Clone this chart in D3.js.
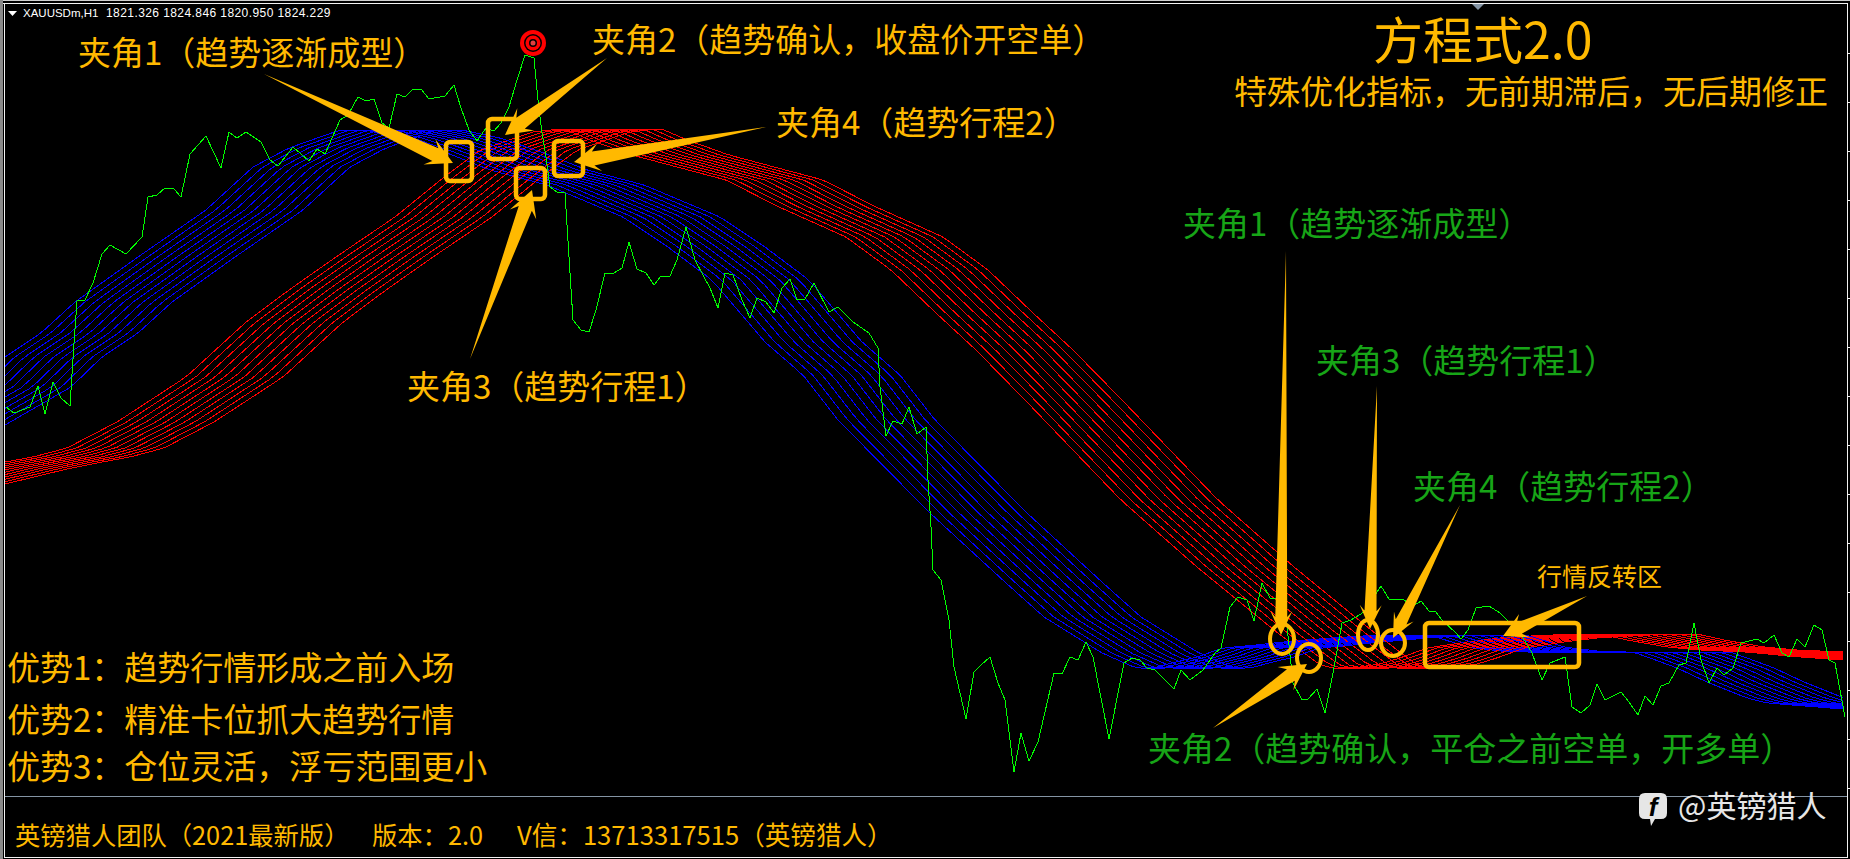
<!DOCTYPE html>
<html><head><meta charset="utf-8">
<script src="https://cdn.jsdelivr.net/npm/d3@7"></script>
<style>html,body{margin:0;padding:0;background:#000;overflow:hidden}svg{display:block}</style>
</head><body><div id="chart"></div>
<script>
// ---- data: time is in half-pixel chart units, price in quote units
const closeTime=[3,7,15,19,22.5,26.5,30.5,35,37,38.5,42.5,46.5,51,55,63,71,74,78.5,82.5,87,90.5,95,103,110.5,114.5,118.5,123,130.5,135,139,146.5,154.5,158.5,162.5,170,174,179,183,187,191,194.5,198.5,202.5,206.5,210.5,214.5,222.5,227,230.5,234.5,238.5,243,247,250.5,254.5,258.5,262.5,267,269,271,273,275,278.5,282.5,284.5,286.5,290.5,294.5,298,302.5,307,311,314.5,318.5,323,327,330.5,335,338.5,343,347.5,352,355,359,362.5,366.5,371,375,378.5,383,387,391,395,398.5,402.5,407,414.5,419,426.5,434.5,439,440,443,446.5,451,454.5,458.5,463,464,465.5,466.5,470.5,474.5,477,483,487,490.5,495,499,502.5,507,510.5,514.5,519,527,531,535,539,543,546.5,554.5,562,566,570,573.5,577.5,587,590.5,595,601.5,607.5,610.5,615,619,623.5,627,631,635,642,646.5,651,654,658.5,662.5,666.5,671,675.5,682,690.5,694.5,702,706.5,710.5,714.5,718,721,728,730.5,734,738,744.5,750,754.5,761.5,766,771,775,782.5,786,790.5,795,798.5,802.5,810.5,814.5,819,822.5,826.5,830.5,834.5,839.5,843,847,850.5,854.5,858.5,862,866.5,870.5,878.5,882,887,891,894.5,898.5,902.5,907,911,914.5,917.5,920,922.5];
const closePrice=[1859.3,1858.7,1859.3,1861.4,1858.6,1861.8,1860.2,1859.4,1865.7,1869.9,1870,1871.7,1874.6,1875.5,1874.6,1876.3,1880.3,1880.5,1881.2,1881.1,1880.3,1884.6,1886.4,1883.2,1886.8,1886.2,1886.8,1885.8,1884,1883.4,1885.3,1883.9,1885.1,1884.6,1888,1888.5,1890.3,1889.9,1890.1,1887.7,1887.2,1890.6,1890.3,1891.1,1891.1,1890.1,1890.4,1891.5,1889.2,1887,1885.9,1887.2,1886.9,1887.7,1889.3,1892,1894.5,1894.2,1890,1886.7,1884.3,1881.3,1880.8,1880.7,1874.3,1868,1867,1866.8,1869,1872.7,1872.7,1873.2,1875.8,1873.1,1872.7,1871.5,1872.4,1872.4,1874,1877.3,1874,1872.3,1871.2,1869.2,1872.7,1872.5,1870,1868.2,1870.2,1869.8,1868.7,1871.2,1872.1,1870,1870.1,1871.7,1868.8,1869.3,1867.8,1866.7,1865.2,1861.3,1856.4,1857.9,1857.6,1859.3,1856.6,1857.3,1852,1847.3,1843,1842,1838,1833.3,1828.1,1832.8,1833.5,1834.3,1831.7,1830,1822.8,1826.7,1823.9,1825.8,1832.7,1832.6,1834.3,1834,1835.8,1834.3,1826.1,1833.7,1834.2,1834,1833.2,1833,1831.1,1833,1832,1833,1834.7,1835.2,1839.3,1840.3,1840,1837.9,1841.7,1840.2,1840.2,1831.7,1830,1830.1,1831.1,1828.7,1832.7,1837.7,1838,1838.8,1841.4,1840.1,1840,1839.4,1839.9,1838.9,1838.8,1838,1836.7,1836.1,1837,1839.2,1839.4,1838.7,1837.8,1836.2,1834.7,1832,1833.7,1834.3,1829.3,1828.7,1829.5,1831.6,1830,1830.8,1829.8,1828.5,1830.4,1829.5,1831.4,1831.7,1833.5,1833.7,1837.7,1834,1831.7,1833.2,1832.5,1833.2,1835.7,1836.1,1835.7,1836.5,1834.7,1834.3,1836.1,1835.3,1837.5,1837,1834,1833.7,1831,1828.3];

// fastest moving average of each ribbon; the slower ones trail it by ribbonLags
const blueTime=[-46,-13,2.5,20.5,37.5,69,103,126.5,144.5,170,182.5,201.5,223.5,245,273.5,311.5,334,356,382.5,401.5,419,465,503,522,551,568,576.5,588,598.5,611.5,628.5,636.5,665,690,715,733.5,750,763.5,788.5,816.5,825,838.5,853.5,873.5,883.5,921.5];
const bluePrice=[1857.5,1861.3,1864.3,1866.7,1869.8,1874.3,1879,1883.3,1885.2,1887,1887,1886.2,1884.7,1883,1881.5,1878.3,1875.3,1872,1865.8,1862.5,1858,1848.7,1841.7,1838.3,1834.7,1833.2,1833.2,1833.8,1834.3,1835.2,1835.5,1835.7,1836.2,1836.5,1836.5,1835.3,1834.9,1834.8,1834.7,1834.8,1834.2,1833.2,1831.8,1830.2,1829.7,1829.1];
const redTime=[-46,-15,2.5,16.5,33.5,58.5,93,122.5,144.5,168,197.5,221.5,240,266.5,280,282.5,295,316,363,389.5,423,445.5,468,488,512.5,560.5,598.5,637,660,666.5,676.5,690,700,713.5,733.5,750,765,788.5,800,813.5,833.5,850,873,900,921.5];
const redPrice=[1851.6,1853.1,1853.8,1854.3,1855.2,1857.8,1862.3,1867.7,1871,1874.3,1878.3,1882.2,1885,1886.8,1887.1,1887.1,1886,1884.5,1882,1879.3,1876.3,1873,1868.7,1865,1860,1850,1843.3,1837,1833.5,1833.2,1833.2,1833.6,1834.2,1835.2,1835.8,1836.2,1836.4,1836.6,1836.6,1836,1835.3,1835,1834.8,1834.3,1834];
const ribbonLags=[0,4.85,9.7,14.55,19.4,24.25,29.1,33.95,38.8,43.65,48.5];
const axisPriceTicks=[1894.7,1889.8,1884.9,1880,1875.1,1870.2,1865.3,1860.4,1855.5,1850.6,1845.7,1840.8,1835.9,1831,1826.1,1821.2];

const headerLabels=["XAUUSDm,H1","1821.326 1824.846 1820.950 1824.229"];
const orangeLabels=["夹角1（趋势逐渐成型）","夹角2（趋势确认，收盘价开空单）","夹角4（趋势行程2）","夹角3（趋势行程1）"];
const greenLabels=["夹角1（趋势逐渐成型）","夹角3（趋势行程1）","夹角4（趋势行程2）","夹角2（趋势确认，平仓之前空单，开多单）"];
const advantageLabels=["优势1：趋势行情形成之前入场","优势2：精准卡位抓大趋势行情","优势3：仓位灵活，浮亏范围更小"];
const footerLabels=["英镑猎人团队（2021最新版）","版本：2.0","V信：13713317515（英镑猎人）"];

// ---- layout
const W=1850,H=859,ORANGE="#ffb900",GREEN="#17a517",FONT="'Noto Sans CJK SC','Noto Sans',sans-serif";
const svg=d3.select("#chart").append("svg").attr("width",W).attr("height",H).style("background","#000");
const x=d3.scaleLinear().domain([0,925]).range([0,W]);
const y=d3.scaleLinear().domain([1900-H/10,1900]).range([H,0]);
svg.append("defs").append("clipPath").attr("id","plot").append("rect").attr("x",5).attr("y",4).attr("width",1842).attr("height",792);
const plot=svg.append("g").attr("clip-path","url(#plot)");

// ---- ribbons
const samples=d3.range(2.5,922,4).concat([921.5]);
const blueCurve=d3.scaleLinear().domain(blueTime).range(bluePrice);
const redCurve=d3.scaleLinear().domain(redTime).range(redPrice);
function ribbonLine(curve,lag,color){
  const line=d3.line().x(t=>x(t)).y(t=>y(curve(t-lag)));
  plot.append("path").attr("d",line(samples)).attr("fill","none").attr("stroke",color).attr("stroke-width",1).attr("shape-rendering","crispEdges");
}
ribbonLags.forEach(lag=>{
  ribbonLine(blueCurve,lag,"#0000ff");
  ribbonLine(redCurve,lag,"#ff0000");
});

// ---- close line
const closeLine=d3.line().x((d,i)=>x(closeTime[i])).y((d,i)=>y(closePrice[i]));
plot.append("path").attr("d",closeLine(closePrice)).attr("fill","none").attr("stroke","#00ff00").attr("stroke-width",1).attr("shape-rendering","crispEdges");

// ---- frame
const frame=svg.append("g");
frame.append("rect").attr("x",0).attr("y",0).attr("width",W).attr("height",1).attr("fill","#cfcfcf");
frame.append("rect").attr("x",0).attr("y",3).attr("width",1848).attr("height",1).attr("fill","#f2f2f2");
frame.append("rect").attr("x",0).attr("y",0).attr("width",3).attr("height",H).attr("fill","#8a8a8a");
frame.append("rect").attr("x",4).attr("y",3).attr("width",1).attr("height",854).attr("fill","#f2f2f2");
frame.append("rect").attr("x",4).attr("y",857).attr("width",1844).attr("height",1).attr("fill","#f2f2f2");
frame.append("rect").attr("x",1847).attr("y",3).attr("width",1).attr("height",855).attr("fill","#f2f2f2");
frame.append("rect").attr("x",5).attr("y",796).attr("width",1842).attr("height",1).attr("fill","#8494a4");
const yAxis=d3.axisRight(y).tickValues(axisPriceTicks).tickSize(3).tickFormat("");
const axisG=svg.append("g").attr("transform","translate(1847,0)").call(yAxis);
axisG.select(".domain").remove();
axisG.selectAll("line").attr("stroke","#f2f2f2");
frame.append("path").attr("d","M1472,4H1484L1478,10Z").attr("fill","#8494a4");
frame.append("path").attr("d","M8,11H17L12.5,16Z").attr("fill","#fff");

// ---- text helper
function label(s,px,cy,size,color,anchor){
  svg.append("text").attr("x",px).attr("y",cy).attr("dy","0.36em").attr("font-family",FONT).attr("font-size",size)
    .attr("fill",color).attr("text-anchor",anchor||"start").text(s);
}
svg.append("text").attr("x",23).attr("y",17).attr("font-family","'Liberation Sans',sans-serif").attr("font-size",11.5).attr("fill","#fff").text(headerLabels[0]);
svg.append("text").attr("x",106).attr("y",17).attr("font-family","'Liberation Sans',sans-serif").attr("font-size",12).attr("letter-spacing",0.42).attr("fill","#fff").text(headerLabels[1]);

label(orangeLabels[0],78,53,33,ORANGE);
label(orangeLabels[1],592,40,33,ORANGE);
label(orangeLabels[2],776,123,33,ORANGE);
label(orangeLabels[3],407,387,33,ORANGE);
label(greenLabels[0],1183,224,33,GREEN);
label(greenLabels[1],1316,361,33,GREEN);
label(greenLabels[2],1413,487,33,GREEN);
label(greenLabels[3],1148,749,33,GREEN);
label("行情反转区",1537,577,25,ORANGE);
label("方程式2.0",1373,41,50,ORANGE);
label("特殊优化指标，无前期滞后，无后期修正",1234,92,33,ORANGE);
label(advantageLabels[0],7,668,33,ORANGE);
label(advantageLabels[1],7,720,33,ORANGE);
label(advantageLabels[2],7,767,33,ORANGE);
label(footerLabels[0],15,836,25.3,ORANGE);
label(footerLabels[1],372,836,25.3,ORANGE);
label(footerLabels[2],517,836,25.6,ORANGE);
label("@英镑猎人",1678,806,30,"#e6e6e6");

// ---- watermark icon
svg.append("path").attr("d","M1645,793H1661Q1667,793 1667,799V813Q1667,819 1661,819H1655L1651,826L1650,819H1645Q1639,819 1639,813V799Q1639,793 1645,793Z").attr("fill","#e6e6e6");
svg.append("text").attr("x",1653).attr("y",816).attr("text-anchor","middle").attr("font-family","'Liberation Sans',sans-serif").attr("font-weight","bold").attr("font-style","italic").attr("font-size",26).attr("fill","#000").text("f");

// ---- annotation shapes
const notes=svg.append("g");
[[446,142,26,39],[488,119,29,40],[516,168,29,31],[554,141,29,35],[1425,623,154,44]].forEach(b=>{
  notes.append("rect").attr("x",b[0]).attr("y",b[1]).attr("width",b[2]).attr("height",b[3]).attr("rx",4).attr("fill","none").attr("stroke",ORANGE).attr("stroke-width",4.5);
});
[[1282,639,12,15],[1309,658,12,14],[1368,635,10,15],[1393,643,12,13]].forEach(e=>{
  notes.append("ellipse").attr("cx",e[0]).attr("cy",e[1]).attr("rx",e[2]).attr("ry",e[3]).attr("fill","none").attr("stroke",ORANGE).attr("stroke-width",4);
});
function arrow(tx,ty,hx,hy,shaft,barb,head){
  const dx=hx-tx,dy=hy-ty,len=Math.hypot(dx,dy),ux=dx/len,uy=dy/len,nx=-uy,ny=ux;
  const bx=hx-ux*head,by=hy-uy*head, sx=bx+ux*head*0.25,sy=by+uy*head*0.25;
  const pts=[[tx,ty],[sx+nx*shaft,sy+ny*shaft],[bx+nx*barb,by+ny*barb],[hx,hy],[bx-nx*barb,by-ny*barb],[sx-nx*shaft,sy-ny*shaft]];
  notes.append("path").attr("d",d3.line()(pts)+"Z").attr("fill",ORANGE);
}
arrow(264,74,453,163,7,14,26);
arrow(607,58,505,135,7,14,26);
arrow(470,359,532,190,7,14,26);
arrow(766,127,574,162,7,14,26);
arrow(1587,596,1503,636,6,13,24);
arrow(1286,251,1281,635,6,11,24);
arrow(1377,386,1370,629,6,11,24);
arrow(1460,505,1393,638,6,11,24);
arrow(1213,728,1307,664,7,14,26);

// ---- bullseye
[[13,"#ff0000"],[9,"#000"],[7.5,"#ff0000"],[4,"#000"],[2.5,"#e04040"]].forEach(c=>{
  notes.append("circle").attr("cx",533).attr("cy",43).attr("r",c[0]).attr("fill",c[1]);
});
</script></body></html>
